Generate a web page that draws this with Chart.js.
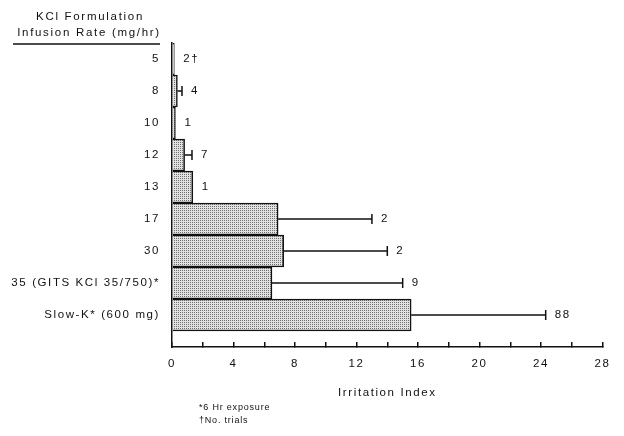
<!DOCTYPE html>
<html>
<head>
<meta charset="utf-8">
<script src="https://cdn.jsdelivr.net/npm/chart.js@4.4.1/dist/chart.umd.min.js"></script>
<style>
  body { margin: 0; background: #fff; }
  #wrap { width: 624px; height: 436px; position: relative; }
</style>
</head>
<body>
<div id="wrap"><canvas id="irritationChart"></canvas></div>
<script>
// KCl formulation / infusion rate (mg/hr)
const categories = ['5', '8', '10', '12', '13', '17', '30', '35 (GITS KCl 35/750)*', 'Slow-K* (600 mg)'];
// mean irritation index
const irritation = [0.15, 0.35, 0.22, 0.82, 1.35, 6.9, 7.26, 6.5, 15.55];
// upper end of the error bar (null = none drawn)
const errHigh = [null, 0.65, null, 1.3, null, 13.0, 14.0, 15.0, 24.3];
// number of trials shown next to each bar
const trials = ['2\u2020', '4', '1', '7', '1', '2', '2', '9', '88'];
const xTicks = [0, 4, 8, 12, 16, 20, 24, 28];

const fontFamily = '"Liberation Sans", Arial, Helvetica, sans-serif';
const ink = '#111';

// stippled fill like the printed bars
function makeStipple() {
    const c = document.createElement('canvas');
    c.width = 2; c.height = 2;
    const g = c.getContext('2d');
    g.fillStyle = '#e2e2e2';
    g.fillRect(0, 0, 2, 2);
    g.fillStyle = '#6e6e6e';
    g.fillRect(0, 0, 1, 1);
    return g.createPattern(c, 'repeat');
}

const spacing = {
    id: 'spacing',
    beforeDraw(chart) {
        chart.ctx.letterSpacing = '1.6px';
    }
};

const annotate = {
    id: 'annotate',
    afterDatasetsDraw(chart) {
        const ctx = chart.ctx;
        const xs = chart.scales.x;
        const meta = chart.getDatasetMeta(0);
        ctx.save();
        ctx.strokeStyle = ink;
        ctx.lineWidth = 1.5;
        ctx.fillStyle = ink;
        ctx.font = '11.5px ' + fontFamily;
        ctx.textBaseline = 'middle';
        ctx.textAlign = 'left';
        meta.data.forEach((bar, i) => {
            const y = bar.y;
            let end = xs.getPixelForValue(irritation[i]);
            if (errHigh[i] != null) {
                const xe = xs.getPixelForValue(errHigh[i]);
                ctx.beginPath();
                ctx.moveTo(end, y);
                ctx.lineTo(xe, y);
                ctx.moveTo(xe, y - 5);
                ctx.lineTo(xe, y + 5);
                ctx.stroke();
                end = xe;
            }
            ctx.fillText(trials[i], end + 9, y);
        });
        ctx.restore();
    }
};

const extras = {
    id: 'extras',
    afterDraw(chart) {
        const ctx = chart.ctx;
        ctx.save();
        ctx.fillStyle = ink;
        ctx.strokeStyle = ink;
        ctx.textBaseline = 'middle';
        ctx.textAlign = 'center';
        ctx.font = '11.5px ' + fontFamily;
        ctx.letterSpacing = '1.7px';
        ctx.fillText('KCl Formulation', 90, 17);
        ctx.fillText('Infusion Rate (mg/hr)', 89, 33);
        ctx.lineWidth = 1.5;
        ctx.beginPath();
        ctx.moveTo(13, 44);
        ctx.lineTo(160, 44);
        ctx.stroke();

        ctx.textAlign = 'left';
        ctx.font = '9px ' + fontFamily;
        ctx.letterSpacing = '0.8px';
        ctx.fillText('*6 Hr exposure', 199, 408);
        ctx.fillText('\u2020No. trials', 199, 421);
        ctx.restore();
    }
};

new Chart(document.getElementById('irritationChart'), {
    type: 'bar',
    data: {
        datasets: [{
            data: irritation.map((v, i) => ({ x: v, y: i })),
            backgroundColor: makeStipple(),
            borderColor: ink,
            borderWidth: 1.5,
            categoryPercentage: 1,
            barPercentage: 1
        }]
    },
    options: {
        indexAxis: 'y',
        responsive: true,
        maintainAspectRatio: false,
        animation: false,
        layout: { padding: { top: 43, right: 8, bottom: 0, left: 0 } },
        plugins: {
            legend: { display: false },
            tooltip: { enabled: false }
        },
        scales: {
            x: {
                type: 'linear',
                min: 0,
                max: 28,
                afterFit(s) { s.height = 89; },
                border: { display: true, color: ink, width: 1.5 },
                grid: { drawOnChartArea: false, drawTicks: true, tickLength: -5, color: ink, lineWidth: 1.5 },
                ticks: {
                    stepSize: 2,
                    autoSkip: false,
                    maxRotation: 0,
                    padding: 15,
                    color: ink,
                    font: { family: fontFamily, size: 11.5 },
                    callback: v => xTicks.includes(v) ? String(v) : ''
                },
                title: {
                    display: true,
                    text: 'Irritation Index',
                    color: ink,
                    font: { family: fontFamily, size: 11.5 },
                    padding: { top: 0, bottom: 36 }
                }
            },
            y: {
                type: 'linear',
                reverse: true,
                offset: false,
                min: -0.5,
                max: 9,
                afterFit(s) { s.width = 172; },
                border: { display: true, color: ink, width: 1.5 },
                grid: { display: false, drawTicks: false, offset: false },
                ticks: {
                    stepSize: 1,
                    autoSkip: false,
                    padding: 12,
                    color: ink,
                    font: { family: fontFamily, size: 11.5 },
                    callback: v => categories[v]
                }
            }
        }
    },
    plugins: [spacing, annotate, extras]
});
</script>
</body>
</html>
